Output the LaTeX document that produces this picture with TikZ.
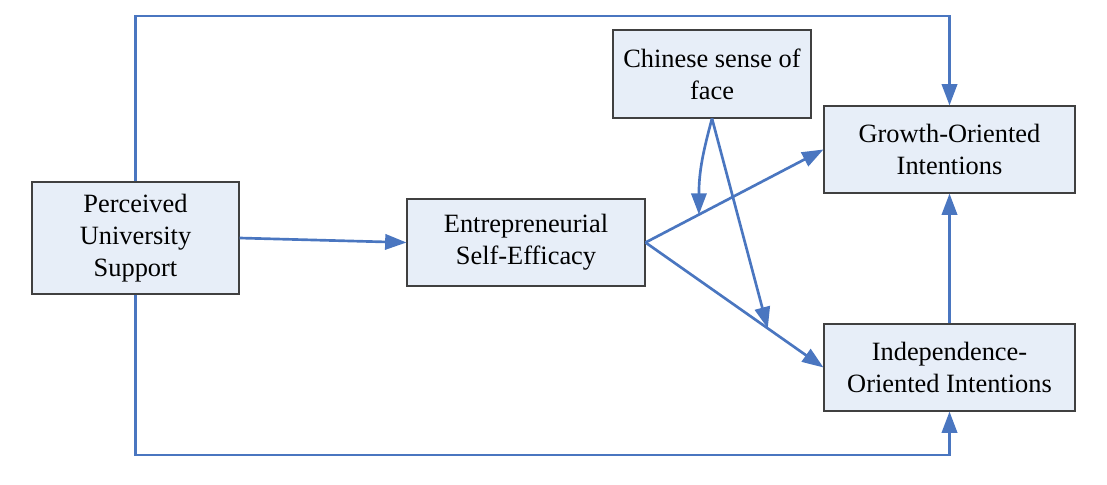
\documentclass[tikz,border=0pt]{standalone}
\usepackage{fontspec}
\setmainfont{Liberation Serif}
\usetikzlibrary{arrows.meta,calc}
\definecolor{lineblue}{HTML}{4A76C0}
\definecolor{boxfill}{HTML}{E7EEF8}
\definecolor{boxdraw}{HTML}{404040}
\begin{document}
\begin{tikzpicture}[x=0.75pt,y=-0.75pt,
  box/.style={draw=boxdraw,line width=0.8pt,fill=boxfill,align=center,inner sep=0pt,
    font=\fontsize{19.8}{24}\selectfont},
  conn/.style={draw=lineblue,line width=2pt,-{Triangle[length=16pt,width=11.5pt]}}]
\useasboundingbox (0,0) rectangle (1107,485);
\node[box,minimum width=155.25pt,minimum height=84pt] (pus) at (135.5,238) {Perceived\\University\\Support};
\node[box,minimum width=178.5pt,minimum height=65.25pt] (ese) at (526,242.5) {Entrepreneurial\\Self-Efficacy};
\node[box,minimum width=148.5pt,minimum height=66pt] (csf) at (712,74) {Chinese sense of\\face};
\node[box,minimum width=188.25pt,minimum height=65.25pt] (goi) at (949.5,149.5) {Growth-Oriented\\Intentions};
\node[box,minimum width=188.25pt,minimum height=65.25pt] (ioi) at (949.5,367.5) {Independence-\\Oriented Intentions};
\coordinate (topy) at (0,16);
\coordinate (boty) at (0,455);
\draw[conn] (pus.north) -- (pus.north |- topy) -| (goi.north);
\draw[conn] (pus.south) -- (pus.south |- boty) -| (ioi.south);
\draw[conn] (pus.east) -- (ese.west);
\draw[conn] (ioi.north) -- (goi.south);
\draw[conn] (ese.east) -- (goi.west);
\draw[conn] (ese.east) -- (ioi.west);
\coordinate (m1) at ($(ese.east)!0.30!(goi.west)$);
\coordinate (m2) at ($(ese.east)!0.687!(ioi.west)$);
\draw[conn] (csf.south) .. controls +(-8,30) and +(0,-45) .. (m1);
\draw[conn] (csf.south) -- (m2);
\end{tikzpicture}
\end{document}
